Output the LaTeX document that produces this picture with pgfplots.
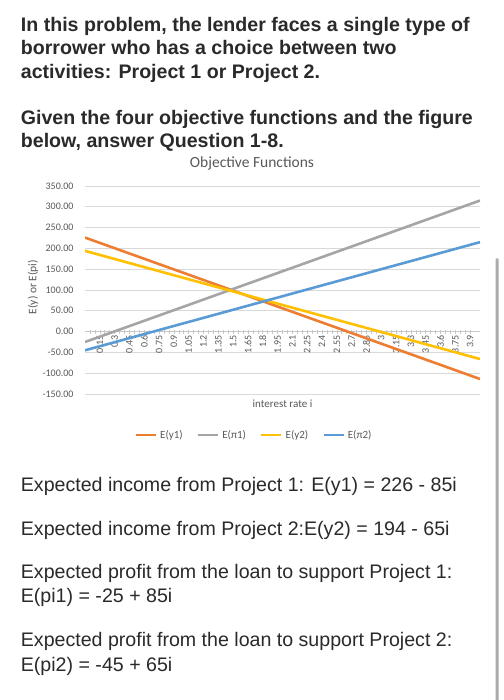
\documentclass[border=0pt]{standalone}
\usepackage{pgfplots}
\pgfplotsset{compat=1.18}
\usepackage{fontspec}
\setmainfont{Liberation Sans}
\newfontfamily\carlito{Carlito}
\definecolor{cOrange}{HTML}{ED7D31}
\definecolor{cGray}{HTML}{A5A5A5}
\definecolor{cYellow}{HTML}{FFC000}
\definecolor{cBlue}{HTML}{5B9BD5}
\definecolor{txt}{HTML}{595959}
\definecolor{gridc}{HTML}{D9D9D9}
\definecolor{axc}{HTML}{C8C8C8}
\definecolor{body}{HTML}{2A2A2A}
\begin{document}
\begin{tikzpicture}[x=1bp,y=1bp]
\fill[white] (0,0) rectangle (504,700);
\begin{scope}[every node/.style={anchor=base west, inner sep=0pt, text=body, font=\fontsize{19.6bp}{23bp}\selectfont\bfseries}]
\node at (20.7,668) {In this problem, the lender faces a single type of};
\node at (20.7,645) {borrower who has a choice between two};
\node at (20.7,621) {activities: Project 1 or Project 2.};
\node at (20.7,575) {Given the four objective functions and the figure};
\node at (20.7,552) {below, answer Question 1-8.};
\end{scope}
\begin{scope}[every node/.style={anchor=base west, inner sep=0pt, text=body, font=\fontsize{19.6bp}{23bp}\selectfont}]
\node at (20.7,208) {Expected income from Project 1: E(y1) = 226 - 85i};
\node at (20.7,164) {Expected income from Project 2:E(y2) = 194 - 65i};
\node at (20.7,121) {Expected profit from the loan to support Project 1:};
\node at (20.7,97) {E(pi1) = -25 + 85i};
\node at (20.7,53) {Expected profit from the loan to support Project 2:};
\node at (20.7,28) {E(pi2) = -45 + 65i};
\end{scope}
\fill[gray!65, rounded corners=1.5bp] (495.5,-2) rectangle (498.5,442);
\begin{axis}[at={(85bp,306bp)}, anchor=south west, scale only axis,
  width=395bp, height=208bp,
  xmin=0, xmax=4, ymin=-150, ymax=350,
  axis x line*=middle, axis y line*=left,
  y axis line style={draw=none},
  x axis line style={axc, line width=0.75bp},
  ytick={-150,-100,-50,0,50,100,150,200,250,300,350},
  ymajorgrids, grid style={gridc, line width=0.75bp},
  ytick style={draw=none},
  /pgf/number format/.cd, fixed, fixed zerofill, precision=2, assume math mode=true, /pgfplots/.cd,
  xtick={0,0.15,0.3,0.45,0.6,0.75,0.9,1.05,1.2,1.35,1.5,1.65,1.8,1.95,2.1,2.25,2.4,2.55,2.7,2.85,3,3.15,3.3,3.45,3.6,3.75,3.9},
  xticklabels={0,0.15,0.3,0.45,0.6,0.75,0.9,1.05,1.2,1.35,1.5,1.65,1.8,1.95,2.1,2.25,2.4,2.55,2.7,2.85,3,3.15,3.3,3.45,3.6,3.75,3.9},
  minor x tick num=2,
  xtick style={axc, line width=0.6bp}, minor x tick style={axc, line width=0.6bp},
  major tick length=4bp, minor tick length=4bp, tick align=center,
  tick label style={font=\carlito\fontsize{10bp}{12bp}\selectfont, text=txt},
  xticklabel style={rotate=90, anchor=east, inner sep=1.5bp},
  yticklabel style={xshift=-6bp},
  title={Objective Functions},
  every axis title/.style={at={(axis description cs:0.4228,1.106)}, anchor=center, font=\carlito\fontsize{15.5bp}{17bp}\selectfont, text=txt},
  xlabel={interest rate i},
  xlabel style={at={(axis description cs:0.5,-0.048)}, anchor=center, font=\carlito\fontsize{11bp}{13bp}\selectfont, text=txt},
  ylabel={E(y) or E(pi)},
  ylabel style={at={(axis description cs:-0.1316,0.514)}, anchor=center, font=\carlito\fontsize{11.5bp}{13bp}\selectfont, text=txt},
  legend style={at={(axis description cs:0.428,-0.197)}, anchor=center, draw=none, fill=none,
    legend columns=4, font=\carlito\fontsize{11bp}{13bp}\selectfont, text=txt,
    /tikz/every even column/.append style={column sep=12bp},
    /tikz/every odd column/.append style={column sep=1bp}},
  legend cell align=left,
  legend image code/.code={\draw[#1, line width=2.6bp] (0bp,0bp) -- (20bp,0bp);},
]
\addplot[cOrange, line width=2.6bp] coordinates {(0,226) (1,141) (2,56) (3,-29) (4,-114)};
\addlegendentry{E(y1)}
\addplot[cGray, line width=2.6bp] coordinates {(0,-25) (1,60) (2,145) (3,230) (4,315)};
\addlegendentry{E(π1)}
\addplot[cYellow, line width=2.6bp] coordinates {(0,194) (1,129) (2,64) (3,-1) (4,-66)};
\addlegendentry{E(y2)}
\addplot[cBlue, line width=2.6bp] coordinates {(0,-45) (1,20) (2,85) (3,150) (4,215)};
\addlegendentry{E(π2)}
\end{axis}
\pgfresetboundingbox
\useasboundingbox (0,0) rectangle (504,700);
\end{tikzpicture}
\end{document}
